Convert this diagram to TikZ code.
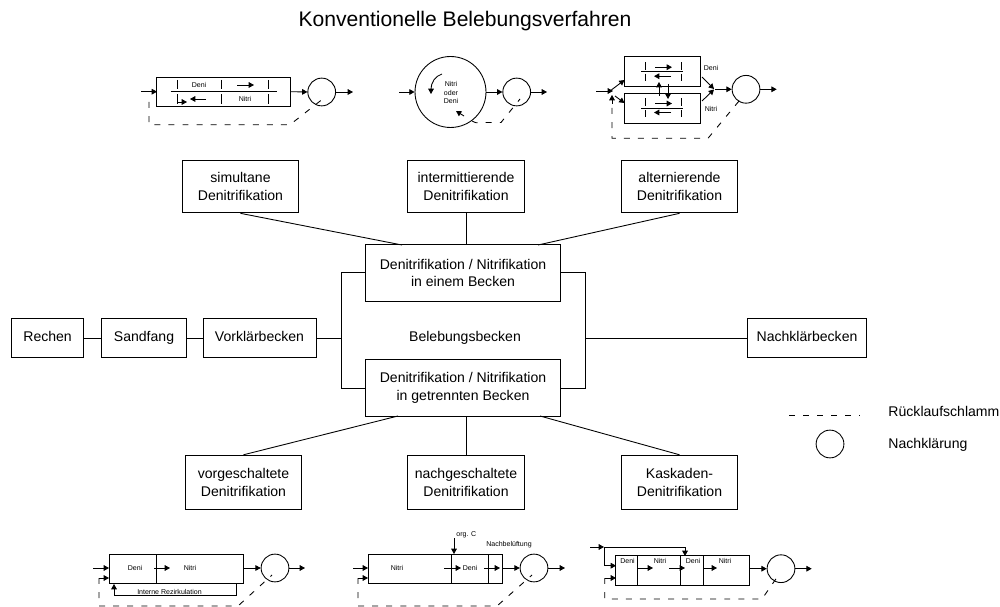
\documentclass[tikz,border=0pt]{standalone}
\usepackage{fontspec}
\setmainfont{Liberation Sans}
\usetikzlibrary{arrows.meta}

\begin{document}
\begin{tikzpicture}[
    x=0.02cm, y=-0.02cm,
    box/.style={draw, line width=0.55pt, inner sep=0pt, align=center, font=\fontsize{8}{9.85}\selectfont},
    single/.style={draw, line width=0.55pt, inner sep=0pt, minimum height=22.6pt, text height=5.8pt, text depth=1.7pt, font=\fontsize{8}{9.85}\selectfont},
    tiny/.style={inner sep=0pt, align=center, font=\fontsize{4}{5}\selectfont},
    arrow/.style={-{Triangle[length=3pt,width=3.2pt]}, line width=0.5pt},
    link/.style={line width=0.5pt},
    ret/.style={dash pattern=on 3.4pt off 4.6pt, line width=0.5pt},
    clar/.style={draw, circle, line width=0.5pt, minimum size=15.8pt, inner sep=0pt}
]
    \useasboundingbox (0,0) rectangle (1000,607);
    \node[inner sep=0pt, font=\fontsize{12}{14}\selectfont] (title) at (465,21) {Konventionelle Belebungsverfahren};

    % main boxes
    \node[box, minimum width=66.5pt, minimum height=30pt] (sim) at (240.5,186.5) {simultane\\Denitrifikation};
    \node[box, minimum width=66.5pt, minimum height=30pt] (int) at (466,186.5) {intermittierende\\Denitrifikation};
    \node[box, minimum width=66.5pt, minimum height=30pt] (alt) at (679.5,186.5) {alternierende\\Denitrifikation};
    \node[box, minimum width=111pt, minimum height=32pt] (einem) at (463,273) {Denitrifikation / Nitrifikation\\in einem Becken};
    \node[box, minimum width=111pt, minimum height=32pt] (getr) at (463,388) {Denitrifikation / Nitrifikation\\in getrennten Becken};
    \node[single, draw=none] (bel) at (465,337.5) {Belebungsbecken};
    \node[single, minimum width=40.7pt] (rechen) at (47.6,338) {Rechen};
    \node[single, minimum width=48.5pt] (sand) at (144,338) {Sandfang};
    \node[single, minimum width=64.3pt] (vor) at (259.5,338) {Vorklärbecken};
    \node[single, minimum width=68pt] (nach) at (807,338) {Nachklärbecken};
    \node[box, minimum width=66.5pt, minimum height=31pt] (vorg) at (243.5,482.5) {vorgeschaltete\\Denitrifikation};
    \node[box, minimum width=66.5pt, minimum height=31pt] (nachg) at (466,482.5) {nachgeschaltete\\Denitrifikation};
    \node[box, minimum width=66.5pt, minimum height=31pt] (kask) at (679.5,482.5) {Kaskaden-\\Denitrifikation};

    \coordinate (bl) at (341.3,338);
    \coordinate (br) at (585.3,338);
    \draw[link] (rechen) -- (sand);
    \draw[link] (sand) -- (vor);
    \draw[link] (vor) -- (bl);
    \draw[link] (br) -- (nach);
    \draw[link] (einem.west |- 0,272.3) -| (bl) |- (getr.west |- 0,388);
    \draw[link] (einem.east |- 0,272.3) -| (br) |- (getr.east |- 0,388);
    \draw[link] (sim.south) -- (402,245);
    \draw[link] (int.south) -- (int.south |- einem.north);
    \draw[link] (alt.south) -- (538,245);
    \draw[link] (398,416) -- (vorg.north);
    \draw[link] (nachg.north |- getr.south) -- (nachg.north);
    \draw[link] (540,416) -- (kask.north);

    % legend
    \coordinate (lega) at (789,415);
    \coordinate (legb) at (860,415);
    \draw[ret] (lega) -- (legb);
    \node[clar] (legc) at (830,444) {};
    \node[single, draw=none, anchor=west] (legt) at (888,413) {Rücklaufschlamm};
    \node[single, draw=none, anchor=west] (legn) at (888,445) {Nachklärung};

    % simultane
    \draw[link] (156.7,77) rectangle (290.7,106.7);
    \draw[link] (170.7,91.7) -- (276.7,91.7);
    \foreach \px in {177.7,221.7,268.3} {
        \draw[link] (\px,80) -- (\px,89);
        \draw[link] (\px,94.5) -- (\px,104);
    }
    \node[tiny] (t1) at (199,84.5) {Deni};
    \node[tiny] (t2) at (245,99) {Nitri};
    \draw[arrow] (237,85) -- (254,85);
    \draw[arrow] (206,99) -- (190,99);
    \draw[arrow] (177.7,101) |- (187,102);
    \node[clar] (c1) at (321.7,92) {};
    \draw[arrow] (141,91.7) -- (157,91.7);
    \draw[arrow] (291,91.7) -- (c1.west);
    \draw[arrow] (c1.east) -- (353,92);
    \draw[ret] (149,102) -- (149,124.7) -- (290,124.7) -- (324,98);

    % intermittierende
    \node[draw, circle, line width=0.5pt, minimum size=40.4pt, inner sep=0pt] (c2) at (450.5,92) {};
    \node[tiny] (t3) at (451,92.5) {Nitri\\oder\\Deni};
    \node[clar] (c3) at (516.7,92) {};
    \draw[arrow] (399,92) -- (c2.west);
    \draw[arrow] (c2.east) -- (c3.west);
    \draw[arrow] (442,74) .. controls (435,76) and (431,83) .. (431,94);
    \draw[arrow] (464,116) -- (456,111);
    \draw[arrow] (c3.east) -- (547,92);
    \draw[ret] (472,121) .. controls (476,123) .. (480,122.5) -- (501,122.5) -- (520,99);

    % alternierende
    \draw[link] (624.7,56) rectangle (700.7,86);
    \draw[link] (624.7,93.3) rectangle (700.7,123.3);
    \foreach \py in {71.7,108} {
        \draw[link] (641,\py) -- (682.7,\py);
        \foreach \px in {645,681} {
            \draw[link] (\px,\py-9.5) -- (\px,\py-2);
            \draw[link] (\px,\py+2) -- (\px,\py+9.5);
        }
        \draw[arrow] (655,\py-4.5) -- (672,\py-4.5);
        \draw[arrow] (671,\py+4.5) -- (654,\py+4.5);
    }
    \node[tiny] (t4) at (711,67.5) {Deni};
    \node[tiny] (t5) at (711,109) {Nitri};
    \draw[arrow] (659,96) -- (659,82);
    \draw[arrow] (668,84) -- (668,99);
    \node[clar] (c4) at (746,89.3) {};
    \draw[arrow] (596,91) -- (613,91);
    \draw[arrow] (610,91) -- (624.5,80);
    \draw[arrow] (615,96) -- (624.5,103);
    \draw[arrow] (612,104) -- (612,95);
    \draw[arrow] (702,77) -- (714,89);
    \draw[arrow] (702,101) -- (714,89.5);
    \draw[arrow] (715,89.3) -- (c4.west);
    \draw[arrow] (c4.east) -- (776.7,89.3);
    \draw[ret] (612,108) -- (612,138.3) -- (708,138.3) -- (744,95);

    % vorgeschaltete
    \draw[link] (109,554) rectangle (243,583);
    \draw[link] (156.7,554) -- (156.7,583);
    \node[tiny] (t6) at (135,568) {Deni};
    \node[tiny] (t7) at (190,568) {Nitri};
    \node[tiny] (t8) at (169.5,591.5) {Interne Rezirkulation};
    \draw[arrow] (154,568) -- (170,568);
    \draw[arrow] (93,568) -- (109,568);
    \draw[arrow] (99,578) -- (109,578);
    \node[clar] (c5) at (275,568) {};
    \draw[arrow] (243,568) -- (c5.west);
    \draw[arrow] (c5.east) -- (305,568);
    \draw[arrow] (236.7,583) |- (114,595.5) -- (114,584);
    \draw[ret] (99,578) -- (99,606) -- (238,606) -- (272,575);

    % nachgeschaltete
    \draw[link] (368,554) rectangle (502.7,583);
    \draw[link] (451,554) -- (451,583);
    \draw[link] (488.7,554) -- (488.7,583);
    \node[tiny] (t9) at (397,568) {Nitri};
    \node[tiny] (t10) at (470,568) {Deni};
    \node[tiny, anchor=west] (t11) at (456,535) {org. C};
    \node[tiny] (t12) at (509,545) {Nachbelüftung};
    \draw[arrow] (353,568) -- (368,568);
    \draw[arrow] (358,578) -- (368,578);
    \draw[arrow] (444,568) -- (461,568);
    \draw[arrow] (484,568) -- (500,568);
    \draw[arrow] (454,538) -- (454,554);
    \node[clar] (c6) at (534,568) {};
    \draw[arrow] (503,568) -- (c6.west);
    \draw[arrow] (c6.east) -- (565,568);
    \draw[ret] (358,578) -- (358,606) -- (497,606) -- (532,575);

    % kaskaden
    \draw[link] (615.7,555.7) rectangle (749,585);
    \foreach \px in {637.3,680,703.3} {
        \draw[link] (\px,555.7) -- (\px,585);
    }
    \node[tiny] (t13) at (627.5,561) {Deni};
    \node[tiny] (t14) at (660,561) {Nitri};
    \node[tiny] (t15) at (693,561) {Deni};
    \node[tiny] (t16) at (725,561) {Nitri};
    \draw[arrow] (637,568) -- (653,568);
    \draw[arrow] (669,568) -- (685,568);
    \draw[arrow] (703,568) -- (717,568);
    \draw[arrow] (590,547) -- (604,547);
    \draw[arrow] (604,547) -- (685,547) -- (685,556);
    \draw[arrow] (604.7,547) |- (616,565.7);
    \draw[arrow] (604.7,578) -- (616,578);
    \node[clar] (c7) at (781,568.7) {};
    \draw[arrow] (749,568.7) -- (c7.west);
    \draw[arrow] (c7.east) -- (811.7,568.7);
    \draw[ret] (604.7,578) -- (604.7,599) -- (762,599) -- (780,573);
\end{tikzpicture}
\end{document}
